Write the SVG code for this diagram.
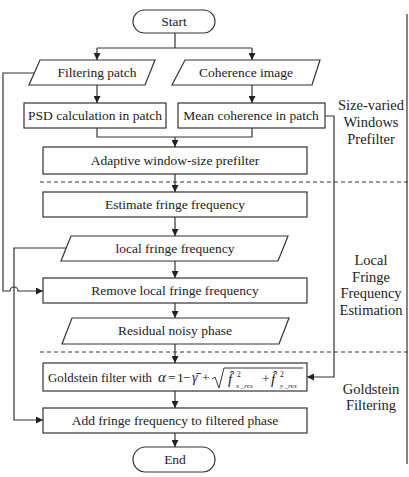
<svg xmlns="http://www.w3.org/2000/svg" width="409" height="477" viewBox="0 0 409 477">
<defs>
<marker id="ah" viewBox="0 0 10 10" refX="10" refY="5" markerWidth="7" markerHeight="7" markerUnits="userSpaceOnUse" orient="auto">
<path d="M0,0 L10,5 L0,10 z" fill="#222"/>
</marker>
</defs>
<style>
.n{fill:#fff;stroke:#333;stroke-width:1.2}
.t{font-size:13.5px;fill:#222;text-anchor:middle}
.l{font-size:14.5px;fill:#222;text-anchor:middle}
.c{fill:none;stroke:#333;stroke-width:1.2}
.a{fill:none;stroke:#333;stroke-width:1.2;marker-end:url(#ah)}
.d{fill:none;stroke:#333;stroke-width:1;stroke-dasharray:4,3}
.i{font-style:italic}
</style>
<rect width="409" height="477" fill="#fff"/>
<g id="connectors">
<path class="c" d="M175,33 V48 M97,48 H252"/>
<path class="a" d="M97,48 V60"/>
<path class="a" d="M252,48 V60"/>
<path class="a" d="M97,85 V103"/>
<path class="a" d="M252,85 V103"/>
<path class="c" d="M97,128 V137 H252 V128"/>
<path class="a" d="M175,137 V147"/>
<path class="a" d="M175,174 V192"/>
<path class="a" d="M175,217 V236"/>
<path class="a" d="M175,261 V278"/>
<path class="a" d="M175,303 V318"/>
<path class="a" d="M175,344 V363"/>
<path class="a" d="M175,391 V408"/>
<path class="a" d="M175,433 V447"/>
<path class="a" d="M35,73 H3 V291 H10 A4,4 0 0 1 18,291 H43"/>
<path class="a" d="M66,248 H14 V420 H43"/>
<path class="a" d="M325,116 H334 V377 H307"/>
<path class="d" d="M40,182 H408 M40,352 H408"/>
<path class="c" d="M407,14 V464"/>
</g>
<g font-family="'Liberation Serif', 'Times New Roman', 'DejaVu Serif', serif">
<g id="start"><rect class="n" x="133" y="10" width="82" height="23" rx="11.5"/><text class="t" x="174" y="26">Start</text></g>
<g id="filtering-patch"><polygon class="n" points="40,60 155,60 145,85 29,85"/><text class="t" x="97" y="77">Filtering patch</text></g>
<g id="coherence-image"><polygon class="n" points="185,60 320,60 312,85 172,85"/><text class="t" x="246" y="77">Coherence image</text></g>
<g id="psd"><rect class="n" x="24" y="103" width="142" height="25"/><text class="t" x="95" y="120">PSD calculation in patch</text></g>
<g id="mean-coherence"><rect class="n" x="178" y="103" width="147" height="25"/><text class="t" x="251" y="120">Mean coherence in patch</text></g>
<g id="adaptive"><rect class="n" x="43" y="147" width="264" height="27"/><text class="t" x="175" y="165">Adaptive window-size prefilter</text></g>
<g id="estimate"><rect class="n" x="43" y="192" width="264" height="25"/><text class="t" x="175" y="209">Estimate fringe frequency</text></g>
<g id="local-fringe"><polygon class="n" points="71,236 288,236 278,261 61,261"/><text class="t" x="175" y="253">local fringe frequency</text></g>
<g id="remove"><rect class="n" x="43" y="278" width="264" height="25"/><text class="t" x="175" y="295">Remove local fringe frequency</text></g>
<g id="residual"><polygon class="n" points="72,318 289,318 279,344 62,344"/><text class="t" x="175" y="335">Residual noisy phase</text></g>
<g id="goldstein"><rect class="n" x="43" y="363" width="264" height="28"/>
<text font-size="13.5" fill="#222" x="48" y="382" textLength="104" lengthAdjust="spacingAndGlyphs">Goldstein filter with</text>
<text font-size="13.5" fill="#222"><tspan class="i" x="158" y="382" font-size="15">α</tspan><tspan x="168" y="382">=</tspan><tspan x="177" y="382">1</tspan><tspan x="183" y="382">−</tspan><tspan class="i" x="192" y="382" font-size="14">γ̄</tspan><tspan x="202" y="382">+</tspan><tspan class="i" x="228" y="384" font-size="15">f̂</tspan><tspan x="237" y="377" font-size="7.5">2</tspan><tspan class="i" x="236" y="388" font-size="7">x _res</tspan><tspan x="262" y="383">+</tspan><tspan class="i" x="271" y="384" font-size="15">f̂</tspan><tspan x="280" y="377" font-size="7.5">2</tspan><tspan class="i" x="280" y="388" font-size="7">y _res</tspan></text>
<polyline points="212,379 215,377 219,388 224,368 303,368" fill="none" stroke="#222" stroke-width="0.9"/>
</g>
<g id="add"><rect class="n" x="43" y="408" width="264" height="25"/><text class="t" x="175" y="425">Add fringe frequency to filtered phase</text></g>
<g id="end"><rect class="n" x="133" y="447" width="82" height="25" rx="12.5"/><text class="t" x="175" y="464">End</text></g>
<g id="label-prefilter"><text class="l" x="371" y="110">Size-varied</text><text class="l" x="371" y="127">Windows</text><text class="l" x="371" y="144">Prefilter</text></g>
<g id="label-local"><text class="l" x="371" y="265">Local</text><text class="l" x="371" y="282">Fringe</text><text class="l" x="371" y="298">Frequency</text><text class="l" x="371" y="315">Estimation</text></g>
<g id="label-goldstein"><text class="l" x="371" y="394">Goldstein</text><text class="l" x="371" y="410">Filtering</text></g>
</g>
</svg>
